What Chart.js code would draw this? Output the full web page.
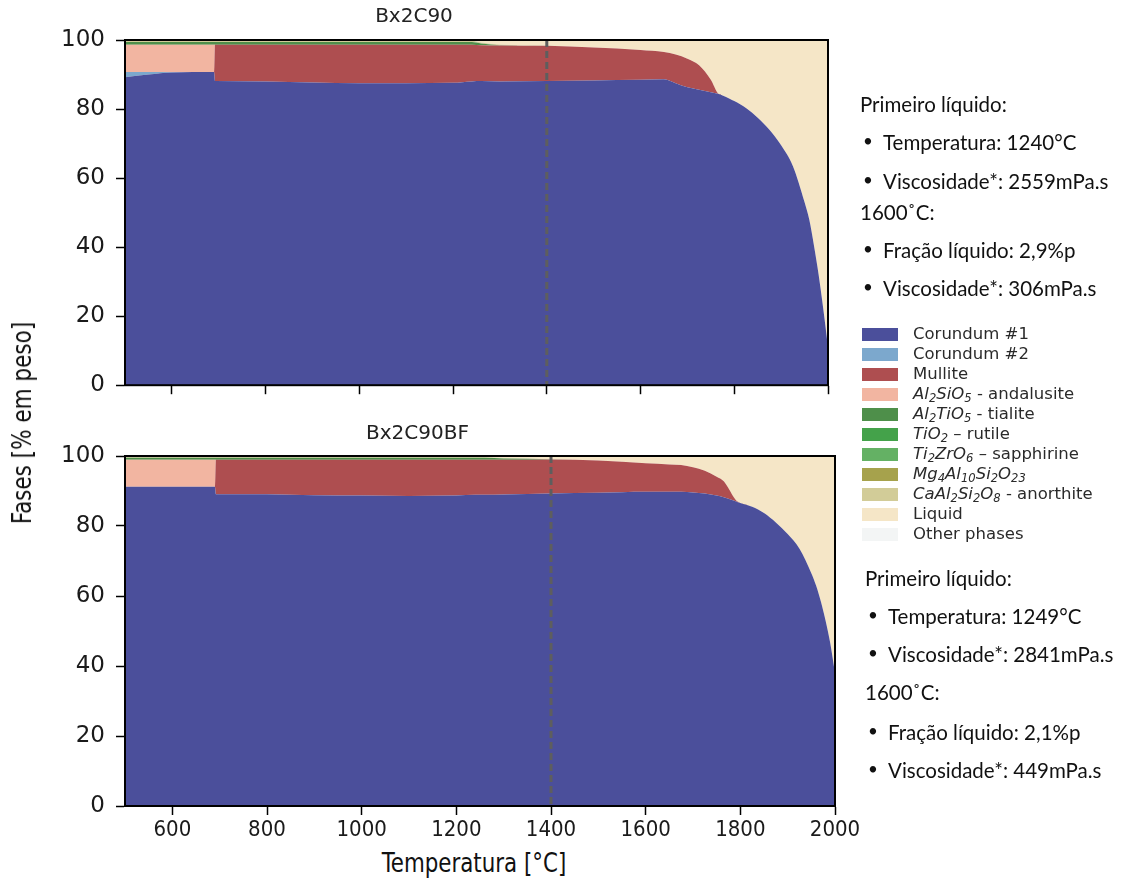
<!DOCTYPE html>
<html>
<head>
<meta charset="utf-8">
<script src="https://cdn.jsdelivr.net/npm/chart.js@4.4.1/dist/chart.umd.min.js"></script>
<style>
  html, body { margin:0; padding:0; background:#fff; }
  #wrap { position:relative; width:1133px; height:879px; overflow:hidden; background:#fff; }
  .cv { position:absolute; }
  .txt { position:absolute; white-space:nowrap; font-family: Lato, 'Open Sans', sans-serif; font-size:20.5px; color:#111; line-height:1; transform: translateY(-50%); }
  .bul { position:absolute; left:0; top:0; font-size:17px; }
  .legend { position:absolute; left:862px; top:324px; font-family:'DejaVu Sans', sans-serif; font-size:16.5px; color:#2a2a2a; }
  .lrow { position:absolute; left:0; height:20px; width:260px; }
  .lbox { position:absolute; left:0; top:4px; width:36px; height:13px; }
  .llab { position:absolute; left:51px; top:0; line-height:20px; white-space:nowrap; }
  .llab sub { font-size:70%; vertical-align:-0.25em; line-height:0; }
  .axlab { position:absolute; white-space:nowrap; font-family:'Liberation Sans Narrow','DejaVu Sans Condensed','Liberation Sans',sans-serif; color:#111; }
</style>
</head>
<body>
<div id="wrap">
  <canvas id="c1" class="cv" width="870" height="410" style="left:0;top:0"></canvas>
  <canvas id="c2" class="cv" width="870" height="430" style="left:0;top:415px"></canvas>
  <div id="legend" class="legend"></div>
  <div id="notes"></div>
  <div class="axlab" id="ylab" style="left:22px;top:423px;font-size:26px;transform:translate(-50%,-50%) rotate(-90deg) scaleX(0.92);">Fases [% em peso]</div>
  <div class="axlab" id="xlab" style="left:474px;top:862px;font-size:27px;transform:translate(-50%,-50%) scaleX(0.88);">Temperatura [°C]</div>
</div>
<script>
// ---------------- DATA ----------------
const temperatures = [500, 550, 600, 690, 692, 800, 850, 900, 1000, 1100, 1200, 1240, 1260, 1300, 1400, 1500, 1600, 1650, 1675, 1700, 1725, 1750, 1765, 1775, 1790, 1800, 1825, 1850, 1875, 1900, 1925, 1950, 1960, 1970, 1980, 1990, 2000];
const xTickValues = [600, 800, 1000, 1200, 1400, 1600, 1800, 2000];
const yTickValues = [0, 20, 40, 60, 80, 100];
const markerTemperature = 1400;

const seriesNames = ['Corundum #1', 'Corundum #2', 'Mullite', 'Al2SiO5 - andalusite', 'Al2TiO5 - tialite', 'TiO2 - rutile', 'Ti2ZrO6 - sapphirine', 'Mg4Al10Si2O23', 'CaAl2Si2O8 - anorthite', 'Liquid', 'Other phases'];
const legendMarkup = ['Corundum #1', 'Corundum #2', 'Mullite',
  '<i>Al<sub>2</sub>SiO<sub>5</sub></i> - andalusite',
  '<i>Al<sub>2</sub>TiO<sub>5</sub></i> - tialite',
  '<i>TiO<sub>2</sub></i> – rutile',
  '<i>Ti<sub>2</sub>ZrO<sub>6</sub></i> – sapphirine',
  '<i>Mg<sub>4</sub>Al<sub>10</sub>Si<sub>2</sub>O<sub>23</sub></i>',
  '<i>CaAl<sub>2</sub>Si<sub>2</sub>O<sub>8</sub></i> - anorthite',
  'Liquid', 'Other phases'];

// Bx2C90
const c90_corundum1 = [89.2, 90.0, 90.6, 90.7, 88.1, 88.0, 87.8, 87.7, 87.5, 87.5, 87.6, 88.0, 88.1, 88.0, 88.1, 88.3, 88.5, 88.6, 87.5, 86.3, 85.6, 84.9, 84.4, 83.9, 83.0, 82.3, 80.3, 77.5, 74.0, 69.5, 63.5, 53.0, 48.0, 40.5, 32.0, 22.0, 11.0];
const c90_corundum2 = [1.5, 0.7, 0.1, 0, 0, 0, 0, 0, 0, 0, 0, 0, 0, 0, 0, 0, 0, 0, 0, 0, 0, 0, 0, 0, 0, 0, 0, 0, 0, 0, 0, 0, 0, 0, 0, 0, 0];
const c90_mullite = [0, 0, 0, 0, 10.5, 10.6, 10.8, 10.9, 11.1, 11.1, 11.0, 10.6, 10.4, 10.4, 10.2, 9.5, 8.6, 7.9, 8.3, 8.3, 7.1, 3.6, 0.2, 0, 0, 0, 0, 0, 0, 0, 0, 0, 0, 0, 0, 0, 0];
const c90_andalusite = [7.9, 7.9, 7.9, 7.9, 0, 0, 0, 0, 0, 0, 0, 0, 0, 0, 0, 0, 0, 0, 0, 0, 0, 0, 0, 0, 0, 0, 0, 0, 0, 0, 0, 0, 0, 0, 0, 0, 0];
const c90_tialite = [0.8, 0.8, 0.8, 0.8, 0.8, 0.8, 0.8, 0.8, 0.8, 0.8, 0.8, 0.8, 0.5, 0.1, 0, 0, 0, 0, 0, 0, 0, 0, 0, 0, 0, 0, 0, 0, 0, 0, 0, 0, 0, 0, 0, 0, 0];
const c90_rutile = [0, 0, 0, 0, 0, 0, 0, 0, 0, 0, 0, 0, 0, 0, 0, 0, 0, 0, 0, 0, 0, 0, 0, 0, 0, 0, 0, 0, 0, 0, 0, 0, 0, 0, 0, 0, 0];
const c90_sapphirine = [0, 0, 0, 0, 0, 0, 0, 0, 0, 0, 0, 0, 0, 0, 0, 0, 0, 0, 0, 0, 0, 0, 0, 0, 0, 0, 0, 0, 0, 0, 0, 0, 0, 0, 0, 0, 0];
const c90_mg4al10 = [0, 0, 0, 0, 0, 0, 0, 0, 0, 0, 0, 0, 0, 0, 0, 0, 0, 0, 0, 0, 0, 0, 0, 0, 0, 0, 0, 0, 0, 0, 0, 0, 0, 0, 0, 0, 0];
const c90_anorthite = [0.4, 0.4, 0.4, 0.4, 0.4, 0.4, 0.4, 0.4, 0.4, 0.4, 0.4, 0.4, 0.3, 0.2, 0.1, 0, 0, 0, 0, 0, 0, 0, 0, 0, 0, 0, 0, 0, 0, 0, 0, 0, 0, 0, 0, 0, 0];
const c90_liquid = [0, 0, 0, 0, 0, 0, 0, 0, 0, 0, 0, 0.2, 0.7, 1.3, 1.6, 2.2, 2.9, 3.5, 4.2, 5.4, 7.3, 11.5, 15.4, 16.1, 17.0, 17.7, 19.7, 22.5, 26.0, 30.5, 36.5, 47.0, 52.0, 59.5, 68.0, 78.0, 89.0];
const c90_other = [0.2, 0.2, 0.2, 0.2, 0.2, 0.2, 0.2, 0.2, 0.2, 0.2, 0.2, 0, 0, 0, 0, 0, 0, 0, 0, 0, 0, 0, 0, 0, 0, 0, 0, 0, 0, 0, 0, 0, 0, 0, 0, 0, 0];

// Bx2C90BF
const bf_corundum1 = [91.2, 91.2, 91.2, 91.2, 89.1, 89.1, 88.9, 88.8, 88.7, 88.6, 88.7, 88.9, 88.9, 89.0, 89.3, 89.5, 89.8, 89.8, 89.8, 89.6, 89.3, 88.7, 88.2, 87.8, 87.1, 86.6, 85.5, 83.7, 81.0, 77.7, 73.5, 66.5, 63.0, 58.5, 53.0, 46.5, 38.0];
const bf_corundum2 = [0, 0, 0, 0, 0, 0, 0, 0, 0, 0, 0, 0, 0, 0, 0, 0, 0, 0, 0, 0, 0, 0, 0, 0, 0, 0, 0, 0, 0, 0, 0, 0, 0, 0, 0, 0, 0];
const bf_mullite = [0, 0, 0, 0, 9.8, 9.8, 10.0, 10.1, 10.2, 10.3, 10.2, 10.0, 10.0, 9.9, 9.7, 9.2, 8.1, 7.8, 7.6, 7.2, 6.5, 5.4, 4.6, 3.0, 0.4, 0, 0, 0, 0, 0, 0, 0, 0, 0, 0, 0, 0];
const bf_andalusite = [7.7, 7.7, 7.7, 7.7, 0, 0, 0, 0, 0, 0, 0, 0, 0, 0, 0, 0, 0, 0, 0, 0, 0, 0, 0, 0, 0, 0, 0, 0, 0, 0, 0, 0, 0, 0, 0, 0, 0];
const bf_tialite = [0.6, 0.6, 0.6, 0.6, 0.6, 0.6, 0.6, 0.6, 0.6, 0.6, 0.6, 0.6, 0.6, 0.4, 0.1, 0, 0, 0, 0, 0, 0, 0, 0, 0, 0, 0, 0, 0, 0, 0, 0, 0, 0, 0, 0, 0, 0];
const bf_rutile = [0, 0, 0, 0, 0, 0, 0, 0, 0, 0, 0, 0, 0, 0, 0, 0, 0, 0, 0, 0, 0, 0, 0, 0, 0, 0, 0, 0, 0, 0, 0, 0, 0, 0, 0, 0, 0];
const bf_sapphirine = [0, 0, 0, 0, 0, 0, 0, 0, 0, 0, 0, 0, 0, 0, 0, 0, 0, 0, 0, 0, 0, 0, 0, 0, 0, 0, 0, 0, 0, 0, 0, 0, 0, 0, 0, 0, 0];
const bf_mg4al10 = [0, 0, 0, 0, 0, 0, 0, 0, 0, 0, 0, 0, 0, 0, 0, 0, 0, 0, 0, 0, 0, 0, 0, 0, 0, 0, 0, 0, 0, 0, 0, 0, 0, 0, 0, 0, 0];
const bf_anorthite = [0.3, 0.3, 0.3, 0.3, 0.3, 0.3, 0.3, 0.3, 0.3, 0.3, 0.3, 0.3, 0.2, 0.1, 0, 0, 0, 0, 0, 0, 0, 0, 0, 0, 0, 0, 0, 0, 0, 0, 0, 0, 0, 0, 0, 0, 0];
const bf_liquid = [0, 0, 0, 0, 0, 0, 0, 0, 0, 0, 0, 0, 0.3, 0.6, 0.9, 1.3, 2.1, 2.4, 2.6, 3.2, 4.2, 5.9, 7.2, 9.2, 12.5, 13.4, 14.5, 16.3, 19.0, 22.3, 26.5, 33.5, 37.0, 41.5, 47.0, 53.5, 62.0];
const bf_other = [0.2, 0.2, 0.2, 0.2, 0.2, 0.2, 0.2, 0.2, 0.2, 0.2, 0.2, 0.2, 0, 0, 0, 0, 0, 0, 0, 0, 0, 0, 0, 0, 0, 0, 0, 0, 0, 0, 0, 0, 0, 0, 0, 0, 0];

const notesTop = ['Primeiro líquido:', '• Temperatura: 1240°C', '• Viscosidade*: 2559mPa.s', '1600˚C:', '• Fração líquido: 2,9%p', '• Viscosidade*: 306mPa.s'];
const notesBottom = ['Primeiro líquido:', '• Temperatura: 1249°C', '• Viscosidade*: 2841mPa.s', '1600˚C:', '• Fração líquido: 2,1%p', '• Viscosidade*: 449mPa.s'];

// ---------------- STYLE ----------------
const seriesColors = ['#4b4f9b', '#7ca8cd', '#ae4e50', '#f2b5a1', '#4e8f4a', '#44a24a', '#64b164', '#a6a24c', '#d2cc98', '#f5e6c7', '#f3f5f5'];

const c90Series = [c90_corundum1, c90_corundum2, c90_mullite, c90_andalusite, c90_tialite, c90_rutile, c90_sapphirine, c90_mg4al10, c90_anorthite, c90_liquid, c90_other];
const bfSeries = [bf_corundum1, bf_corundum2, bf_mullite, bf_andalusite, bf_tialite, bf_rutile, bf_sapphirine, bf_mg4al10, bf_anorthite, bf_liquid, bf_other];

function makeDatasets(series) {
  return series.map((vals, i) => ({
    label: seriesNames[i],
    data: vals.map((v, k) => ({ x: temperatures[k], y: v })),
    backgroundColor: seriesColors[i],
    borderWidth: 0,
    pointRadius: 0,
    cubicInterpolationMode: 'monotone',
    fill: i === 0 ? 'origin' : '-1'
  }));
}

const framePlugin = {
  id: 'frame',
  afterDatasetsDraw(chart) {
    const ctx = chart.ctx, a = chart.chartArea;
    const x = chart.scales.x.getPixelForValue(markerTemperature);
    ctx.save();
    ctx.strokeStyle = '#5e5e5e';
    ctx.lineWidth = 3;
    ctx.setLineDash([7, 4]);
    ctx.beginPath();
    ctx.moveTo(x, a.top);
    ctx.lineTo(x, a.bottom);
    ctx.stroke();
    ctx.restore();
  },
  afterDraw(chart) {
    const ctx = chart.ctx, a = chart.chartArea;
    ctx.save();
    ctx.strokeStyle = '#000';
    ctx.lineWidth = 2;
    ctx.strokeRect(a.left, a.top, a.right - a.left, a.bottom - a.top);
    ctx.restore();
  }
};

function makeChart(id, title, series, opts) {
  return new Chart(document.getElementById(id), {
    type: 'line',
    data: { datasets: makeDatasets(series) },
    plugins: [framePlugin],
    options: {
      responsive: false,
      animation: false,
      devicePixelRatio: 1,
      layout: { padding: { left: 0, right: opts.padRight, top: 0, bottom: 0 } },
      plugins: {
        legend: { display: false },
        tooltip: { enabled: false },
        title: {
          display: true, text: title, color: '#222',
          font: { family: "'DejaVu Sans', sans-serif", size: 20, weight: 'normal' },
          padding: { top: opts.titleTop, bottom: opts.titleBottom }
        }
      },
      scales: {
        x: {
          type: 'linear', min: 500, max: 2000,
          afterBuildTicks: s => { s.ticks = xTickValues.map(v => ({ value: v })); },
          afterFit: s => { s.height = opts.xHeight; },
          grid: { display: true, drawOnChartArea: false, drawTicks: true, tickLength: 9, tickWidth: 1.5, tickColor: '#000' },
          border: { display: true, color: '#000', width: 2 },
          ticks: {
            display: true, color: opts.showX ? '#1a1a1a' : 'rgba(0,0,0,0)', padding: 2, maxRotation: 0, autoSkip: false,
            callback: v => String(v),
            font: { family: "'Liberation Sans Narrow', 'DejaVu Sans Condensed', 'Liberation Sans', sans-serif", size: 22 }
          }
        },
        y: {
          stacked: true, min: 0, max: 100,
          afterBuildTicks: s => { s.ticks = yTickValues.map(v => ({ value: v })); },
          afterFit: s => { s.width = 125; },
          grid: { display: true, drawOnChartArea: false, drawTicks: true, tickLength: 9, tickWidth: 1.5, tickColor: '#000' },
          border: { display: true, color: '#000', width: 2 },
          ticks: { color: '#1a1a1a', padding: 11, callback: v => String(v), font: { family: "'DejaVu Sans', sans-serif", size: 23 } }
        }
      }
    }
  });
}

makeChart('c1', 'Bx2C90', c90Series, { padRight: 42, titleTop: 5, titleBottom: 11, xHeight: 20, showX: false });
makeChart('c2', 'Bx2C90BF', bfSeries, { padRight: 35, titleTop: 7, titleBottom: 10, xHeight: 39, showX: true });

// ---------------- LEGEND ----------------
const leg = document.getElementById('legend');
legendMarkup.forEach((m, i) => {
  const r = document.createElement('div');
  r.className = 'lrow';
  r.style.top = (i * 20) + 'px';
  r.innerHTML = '<div class="lbox" style="background:' + seriesColors[i] + '"></div><div class="llab">' + m + '</div>';
  leg.appendChild(r);
});

// ---------------- NOTES ----------------
const notes = document.getElementById('notes');
function addNotes(lines, left, ys) {
  lines.forEach((t, i) => {
    const d = document.createElement('div');
    d.className = 'txt';
    d.style.top = ys[i] + 'px';
    if (t.startsWith('• ')) {
      d.style.left = (left + 3) + 'px';
      d.innerHTML = '<span class="bul">•</span><span style="margin-left:20px">' + t.slice(2) + '</span>';
    } else {
      d.style.left = left + 'px';
      d.textContent = t;
    }
    notes.appendChild(d);
  });
}
addNotes(notesTop, 860, [104, 142, 181, 212, 250, 288]);
addNotes(notesBottom, 865, [578, 616, 654, 692, 732, 770]);
</script>
</body>
</html>
